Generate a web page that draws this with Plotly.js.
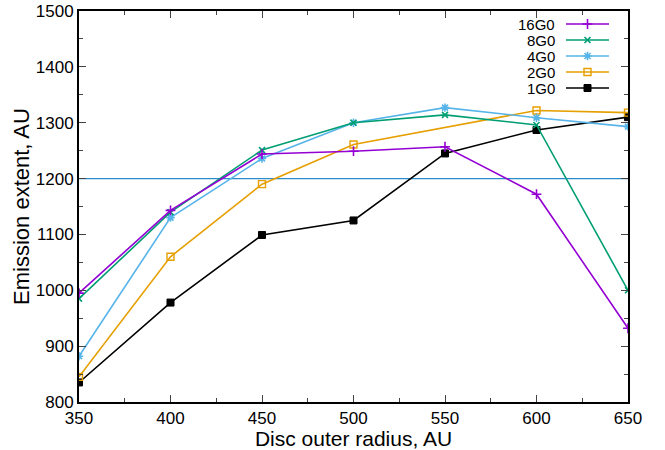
<!DOCTYPE html>
<html>
<head>
<meta charset="utf-8">
<script src="https://cdn.plot.ly/plotly-3.0.1.min.js"></script>
<style>html,body{margin:0;padding:0;background:#fff;}#chart{width:665px;height:450px;}</style>
</head>
<body>
<div id="chart"></div>
<script>
const radius = [350, 400, 450, 500, 550, 600, 650];
const radius2G0 = [350, 400, 450, 500, 600, 650];
const g16 = [995, 1143, 1244, 1249, 1257, 1172, 932];
const g8 = [985, 1140, 1251, 1300, 1314, 1296, 1000];
const g4 = [882, 1130, 1236, 1300, 1327, 1309, 1293];
const g2 = [845, 1060, 1190, 1261, 1322, 1318];
const g1 = [835, 978, 1099, 1125, 1245, 1287, 1310];
const refLevel = 1200;
const seriesNames = ['16G0', '8G0', '4G0', '2G0', '1G0'];
const xTicks = [350, 400, 450, 500, 550, 600, 650];
const yTicks = [800, 900, 1000, 1100, 1200, 1300, 1400, 1500];

const styles = [
  {color: '#9400d3', symbol: 'cross-thin', size: 7, lw: 1.6},
  {color: '#009e73', symbol: 'x-thin', size: 6, lw: 1.6},
  {color: '#56b4e9', symbol: 'asterisk', size: 7, lw: 1.6},
  {color: '#e69f00', symbol: 'square-open', size: 7, lw: 1.4},
  {color: '#000000', symbol: 'square', size: 7, lw: 1}
];
const xs = [radius, radius, radius, radius2G0, radius];
const ys = [g16, g8, g4, g2, g1];

const traces = [];
traces.push({
  x: [xTicks[0], xTicks[xTicks.length - 1]], y: [refLevel, refLevel],
  mode: 'lines', line: {color: '#2a8cc8', width: 1.2}, showlegend: false, hoverinfo: 'skip'
});
for (let i = seriesNames.length - 1; i >= 0; i--) {
  const s = styles[i];
  traces.push({
    x: xs[i], y: ys[i], name: seriesNames[i], mode: 'lines+markers',
    line: {color: s.color, width: 1.6},
    marker: {symbol: s.symbol, size: s.size, color: s.color, line: {color: s.color, width: s.lw}},
    showlegend: false
  });
}

const legendRowsY = [24, 40, 56, 72, 88];
const annotations = [];
for (let i = 0; i < seriesNames.length; i++) {
  const s = styles[i];
  traces.push({
    x: [566, 609], y: [legendRowsY[i], legendRowsY[i]], xaxis: 'x2', yaxis: 'y2',
    mode: 'lines', line: {color: s.color, width: 1.6}, showlegend: false, hoverinfo: 'skip'
  });
  traces.push({
    x: [587.5], y: [legendRowsY[i]], xaxis: 'x2', yaxis: 'y2', mode: 'markers',
    marker: {symbol: s.symbol, size: s.size, color: s.color, line: {color: s.color, width: s.lw}},
    showlegend: false, hoverinfo: 'skip'
  });
  annotations.push({
    x: 557, y: legendRowsY[i], xref: 'x2', yref: 'y2', text: seriesNames[i],
    showarrow: false, xanchor: 'right', yanchor: 'middle',
    font: {family: 'Liberation Sans, Arial, sans-serif', size: 15, color: '#000'}
  });
}

const layout = {
  width: 665, height: 450,
  margin: {l: 79, r: 37, t: 11, b: 48},
  paper_bgcolor: '#fff', plot_bgcolor: '#fff',
  font: {family: 'Liberation Sans, Arial, sans-serif', size: 18, color: '#000'},
  showlegend: false,
  xaxis: {
    range: [350, 650], tickvals: xTicks, ticks: 'inside', ticklen: 7, tickwidth: 1,
    mirror: 'ticks', showline: true, linewidth: 2, linecolor: '#000', showgrid: false, zeroline: false,
    minor: {dtick: 25, ticks: 'inside', ticklen: 4, tickwidth: 1, showgrid: false},
    title: {text: 'Disc outer radius, AU', font: {size: 21}, standoff: 0},
    tickfont: {size: 17}, automargin: false
  },
  yaxis: {
    range: [800, 1500], tickvals: yTicks, ticks: 'inside', ticklen: 7, tickwidth: 1,
    mirror: 'ticks', showline: true, linewidth: 2, linecolor: '#000', showgrid: false, zeroline: false,
    minor: {dtick: 50, ticks: 'inside', ticklen: 4, tickwidth: 1, showgrid: false},
    title: {text: 'Emission extent, AU', font: {size: 22}, standoff: 0},
    tickfont: {size: 17}, automargin: false
  },
  xaxis2: {overlaying: 'x', range: [79, 628], visible: false, fixedrange: true},
  yaxis2: {overlaying: 'y', range: [402, 11], visible: false, fixedrange: true},
  annotations: annotations
};

Plotly.newPlot('chart', traces, layout, {displayModeBar: false, staticPlot: true});
</script>
</body>
</html>
